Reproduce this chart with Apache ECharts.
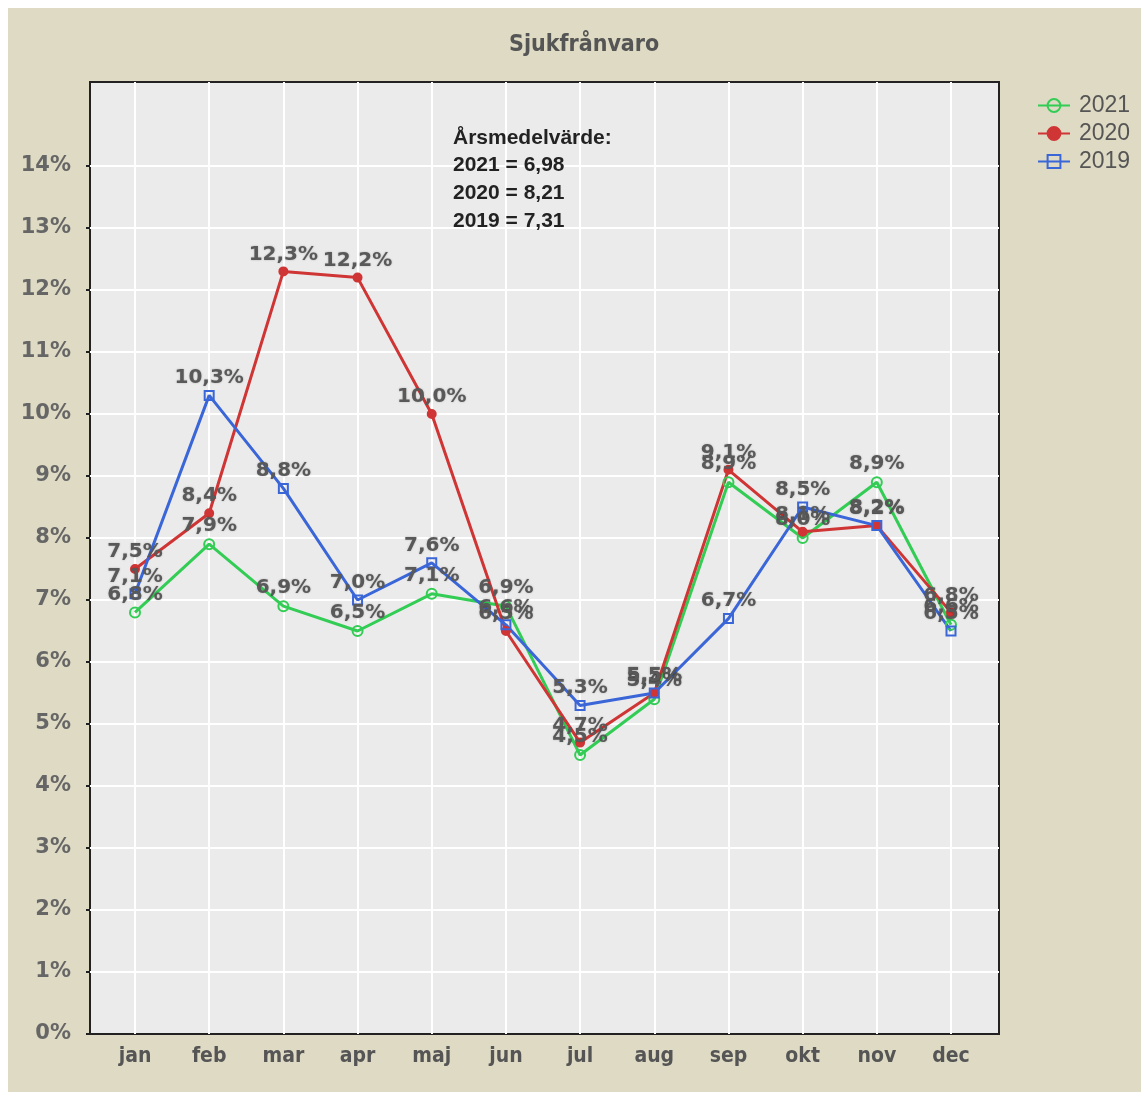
<!DOCTYPE html>
<html>
<head>
<meta charset="utf-8">
<script src="https://cdn.jsdelivr.net/npm/echarts@6/dist/echarts.min.js"></script>
<style>
html,body{margin:0;padding:0;background:#fff;}
#bg{position:absolute;left:8px;top:8px;width:1133px;height:1084px;background:#dedac3;}
#chart{position:absolute;left:0;top:0;width:1141px;height:1093px;}
</style>
</head>
<body>
<div id="bg"></div>
<div id="chart"></div>
<script>
const months = ['jan','feb','mar','apr','maj','jun','jul','aug','sep','okt','nov','dec'];
const y2021 = [6.8, 7.9, 6.9, 6.5, 7.1, 6.9, 4.5, 5.4, 8.9, 8.0, 8.9, 6.6];
const y2020 = [7.5, 8.4, 12.3, 12.2, 10.0, 6.5, 4.7, 5.5, 9.1, 8.1, 8.2, 6.8];
const y2019 = [7.1, 10.3, 8.8, 7.0, 7.6, 6.6, 5.3, 5.5, 6.7, 8.5, 8.2, 6.5];
const titleText = 'Sjukfrånvaro';
const noteLines = ['Årsmedelvärde:', '2021 = 6,98', '2020 = 8,21', '2019 = 7,31'];

const chart = echarts.init(document.getElementById('chart'), null, {renderer: 'canvas'});
const PX = 62; // pixels per percent
const plotH = 952;
const labelStyle = {
  show: true, position: 'top', distance: 2,
  fontFamily: 'DejaVu Sans', fontSize: 20, fontWeight: 'bold', color: '#595959',
  textShadowColor: 'rgba(0,0,0,0.25)', textShadowBlur: 2,
  formatter: p => p.value.toFixed(1).replace('.', ',') + '%'
};
function mk(name, data, color, symbol, size, hollow) {
  return {
    name, type: 'line', data, xAxisIndex: 2, yAxisIndex: 2,
    symbol, symbolSize: size,
    lineStyle: {color, width: 3},
    itemStyle: {color: hollow ? 'rgba(0,0,0,0)' : color, borderColor: color, borderWidth: 2},
    label: labelStyle,
    emphasis: {disabled: true},
    animation: false
  };
}
chart.setOption({
  backgroundColor: 'transparent',
  animation: false,
  title: {
    text: titleText, left: 504, top: 29,
    textStyle: {fontFamily: 'Liberation Sans Narrow, DejaVu Sans Condensed, sans-serif', fontSize: 23, fontWeight: 'bold', color: '#555'}
  },
  legend: {
    data: ['2021', '2020', '2019'], orient: 'vertical', left: 1032, top: 89,
    itemWidth: 32, itemHeight: 16, itemGap: 5,
    textStyle: {fontFamily: 'Liberation Sans, Arial, sans-serif', fontSize: 23, color: '#555', lineHeight: 23, padding: [0,0,0,4]}
  },
  grid: [
    {left: 90, top: 82, width: 909, height: plotH, show: true, backgroundColor: '#ebebeb', borderColor: '#222', borderWidth: 2},
    {left: 90, top: 82 + plotH - 14 * PX, width: 909, height: 14 * PX},
    {left: 135, top: 82, width: 816, height: plotH}
  ],
  xAxis: [
    {gridIndex: 0, type: 'value', show: false},
    {gridIndex: 1, type: 'value', show: false},
    {gridIndex: 2, type: 'category', data: months, boundaryGap: false,
     axisLine: {show: false}, axisTick: {show: false},
     splitLine: {show: true, lineStyle: {color: '#ffffff', width: 2}},
     axisLabel: {margin: 12, fontFamily: 'Liberation Sans Narrow, DejaVu Sans Condensed, sans-serif', fontSize: 21, fontWeight: 'bold', color: '#555'}}
  ],
  yAxis: [
    {gridIndex: 0, type: 'value', show: false},
    {gridIndex: 1, type: 'value', min: 0, max: 14, interval: 1,
     axisLine: {show: false},
     axisTick: {show: true, length: 4, lineStyle: {color: '#222', width: 2}},
     splitLine: {show: true, showMinLine: false, lineStyle: {color: '#ffffff', width: 2}},
     axisLabel: {margin: 19, formatter: '{value}%', fontFamily: 'DejaVu Sans', fontSize: 21, fontWeight: 'bold', color: '#666'}},
    {gridIndex: 2, type: 'value', min: 0, max: plotH / PX, show: false}
  ],
  graphic: [{
    type: 'text', left: 453, top: 124, z: 100,
    style: {text: noteLines.join('\n'), fontFamily: 'Liberation Sans, Arial, sans-serif', fontSize: 21, fontWeight: 'bold', fill: '#222', lineHeight: 27.7}
  }],
  series: [
    mk('2021', y2021, '#33cc55', 'circle', 10, true),
    mk('2020', y2020, '#d03535', 'circle', 8, false),
    mk('2019', y2019, '#3a66d8', 'rect', 9, true)
  ]
});
</script>
</body>
</html>
